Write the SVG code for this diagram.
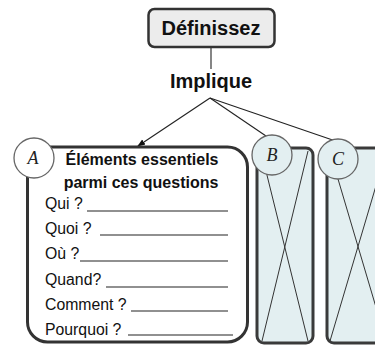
<svg xmlns="http://www.w3.org/2000/svg" width="375" height="345" viewBox="0 0 375 345">
<defs>
<style>
.b{font-family:"Liberation Sans",Arial,sans-serif;font-weight:bold;fill:#111}
.q{font-family:"Liberation Sans",Arial,sans-serif;font-size:15.8px;fill:#111}
.ul{stroke:#222;stroke-width:1.2}
.ph{fill:#e3eff1;stroke:#3a3a3a;stroke-width:3}
.x{stroke:#333;stroke-width:1;fill:none}
.circ{stroke:#666;stroke-width:1.3}
.lt{font-family:"Liberation Serif",serif;font-style:italic;font-size:18px;fill:#222}
.con{stroke:#222;stroke-width:1.1;fill:none}
</style>
<marker id="ah" markerWidth="8" markerHeight="8" refX="7" refY="4" orient="auto" markerUnits="userSpaceOnUse">
<path d="M0,1 L8,4 L0,7 Z" fill="#111"/>
</marker>
</defs>
<rect width="375" height="345" fill="#fff"/>

<g id="connectors">
<line class="con" x1="211" y1="48" x2="211" y2="69"/>
<line class="con" x1="210" y1="98" x2="138" y2="146" marker-end="url(#ah)"/>
<line class="con" x1="210" y1="98" x2="266" y2="136"/>
<line class="con" x1="210" y1="98" x2="353" y2="147" marker-end="url(#ah)"/>
</g>

<g id="definissez">
<rect x="148.5" y="9" width="126" height="38" rx="6" fill="#ececec" stroke="#333" stroke-width="2.5"/>
<text class="b" x="211" y="35" font-size="20" text-anchor="middle">Définissez</text>
</g>

<g id="implique">
<text class="b" x="211" y="88" font-size="20" text-anchor="middle">Implique</text>
</g>

<g id="boxC">
<rect class="ph" x="327" y="148" width="62" height="195" rx="7"/>
<line class="x" x1="330" y1="152" x2="386" y2="341"/>
<line class="x" x1="386" y1="152" x2="330" y2="341"/>
<circle class="circ" cx="338" cy="159" r="20" fill="#e3eff1"/>
<text class="lt" x="338" y="165" text-anchor="middle">C</text>
</g>

<g id="boxB">
<rect class="ph" x="257" y="148" width="56" height="195" rx="7"/>
<line class="x" x1="262" y1="155" x2="308" y2="341"/>
<line class="x" x1="308" y1="151" x2="262" y2="341"/>
<circle class="circ" cx="272" cy="155" r="20" fill="#e3eff1"/>
<text class="lt" x="272" y="161" text-anchor="middle">B</text>
</g>

<g id="boxA">
<rect x="27.5" y="147" width="220" height="195" rx="20" fill="#fff" stroke="#333" stroke-width="3"/>
<circle class="circ" cx="34" cy="158" r="20" fill="#fff"/>
<text class="lt" x="33" y="164" text-anchor="middle">A</text>
<text class="b" x="142" y="165" font-size="16" text-anchor="middle">Éléments essentiels</text>
<text class="b" x="141" y="188" font-size="16" text-anchor="middle">parmi ces questions</text>
<text class="q" x="45" y="209">Qui ?</text>
<line class="ul" x1="87" y1="211" x2="228" y2="211"/>
<text class="q" x="45" y="234">Quoi ?</text>
<line class="ul" x1="100" y1="235" x2="228" y2="235"/>
<text class="q" x="45" y="259">Où ?</text>
<line class="ul" x1="80" y1="261" x2="228" y2="261"/>
<text class="q" x="45" y="285">Quand?</text>
<line class="ul" x1="106" y1="287" x2="228" y2="287"/>
<text class="q" x="45" y="310">Comment ?</text>
<line class="ul" x1="131" y1="311" x2="228" y2="311"/>
<text class="q" x="45" y="335">Pourquoi ?</text>
<line class="ul" x1="128" y1="335" x2="233" y2="335"/>
</g>
</svg>
